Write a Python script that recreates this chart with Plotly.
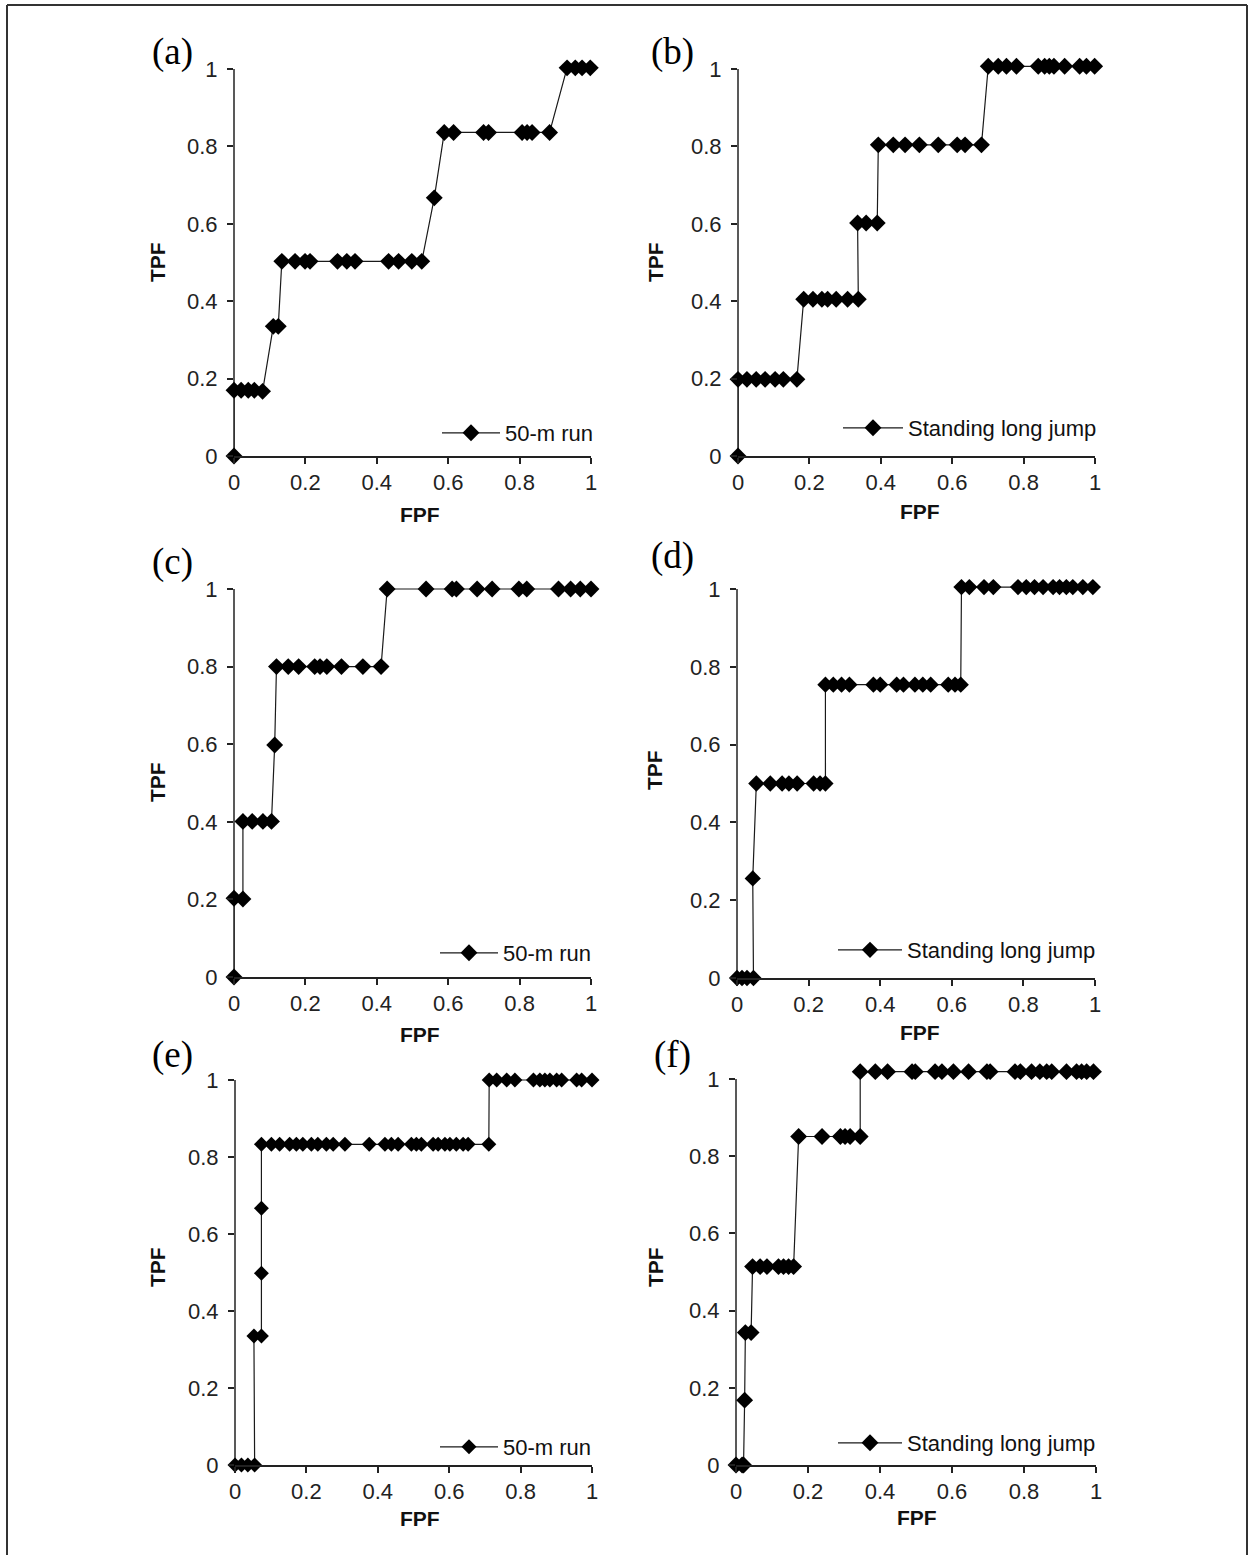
import plotly.graph_objects as go

# ---------------- data ----------------
labels = ["(a)", "(b)", "(c)", "(d)", "(e)", "(f)"]
series_names = ["50-m run", "Standing long jump", "50-m run",
                "Standing long jump", "50-m run", "Standing long jump"]
tick_vals = [0, 0.2, 0.4, 0.6, 0.8, 1]
tick_text = ["0", "0.2", "0.4", "0.6", "0.8", "1"]

fpf_a = [0, 0, 0.02, 0.04, 0.057, 0.08, 0.11, 0.124, 0.134, 0.171, 0.199, 0.213,
         0.29, 0.316, 0.339, 0.433, 0.461, 0.498, 0.526, 0.561, 0.589, 0.615,
         0.699, 0.713, 0.807, 0.821, 0.835, 0.884, 0.933, 0.956, 0.975, 0.998]
tpf_a = [0, 0.17, 0.17, 0.17, 0.17, 0.167, 0.335, 0.335, 0.503, 0.503, 0.503, 0.503,
         0.503, 0.503, 0.503, 0.503, 0.503, 0.503, 0.503, 0.667, 0.836, 0.836,
         0.836, 0.836, 0.836, 0.836, 0.836, 0.836, 1.003, 1.003, 1.003, 1.003]

fpf_b = [0, 0, 0.025, 0.051, 0.076, 0.104, 0.127, 0.165,
         0.184, 0.21, 0.235, 0.251, 0.275, 0.307, 0.337,
         0.335, 0.359, 0.39,
         0.393, 0.435, 0.468, 0.508, 0.561, 0.614, 0.636, 0.682,
         0.701, 0.729, 0.752, 0.78, 0.841, 0.859, 0.872, 0.885, 0.915, 0.957, 0.976, 0.999]
tpf_b = [0, 0.198, 0.198, 0.198, 0.198, 0.198, 0.198, 0.198,
         0.405, 0.405, 0.405, 0.405, 0.405, 0.405, 0.405,
         0.602, 0.602, 0.602,
         0.804, 0.804, 0.804, 0.804, 0.804, 0.804, 0.804, 0.804,
         1.007, 1.007, 1.007, 1.007, 1.007, 1.007, 1.007, 1.007, 1.007, 1.007, 1.007, 1.007]

fpf_c = [0, 0, 0.025, 0.025, 0.051, 0.081, 0.105, 0.114,
         0.119, 0.152, 0.181, 0.226, 0.241, 0.26, 0.301, 0.361, 0.412,
         0.429, 0.538, 0.611, 0.623, 0.681, 0.723, 0.798, 0.82, 0.909, 0.943, 0.97, 1.0]
tpf_c = [0, 0.203, 0.201, 0.401, 0.401, 0.401, 0.401, 0.598,
         0.8, 0.8, 0.8, 0.8, 0.8, 0.8, 0.8, 0.8, 0.8,
         1.0, 1.0, 1.0, 1.0, 1.0, 1.0, 1.0, 1.0, 1.0, 1.0, 1.0, 1.0]

fpf_d = [0, 0.014, 0.028, 0.046, 0.044,
         0.054, 0.093, 0.126, 0.145, 0.168, 0.214, 0.232, 0.247,
         0.247, 0.269, 0.292, 0.314, 0.381, 0.4, 0.446, 0.465, 0.497, 0.519, 0.541, 0.59, 0.609, 0.625,
         0.627, 0.649, 0.69, 0.716, 0.785, 0.808, 0.831, 0.855, 0.883, 0.901, 0.92, 0.938, 0.966, 0.994]
tpf_d = [0, 0, 0, 0, 0.256,
         0.5, 0.5, 0.5, 0.5, 0.5, 0.5, 0.5, 0.5,
         0.754, 0.754, 0.754, 0.754, 0.754, 0.754, 0.754, 0.754, 0.754, 0.754, 0.754, 0.754, 0.754, 0.754,
         1.005, 1.005, 1.005, 1.005, 1.005, 1.005, 1.005, 1.005, 1.005, 1.005, 1.005, 1.005, 1.005, 1.005]

fpf_e = [0, 0.018, 0.036, 0.055, 0.053, 0.074, 0.074, 0.074,
         0.074, 0.102, 0.125, 0.153, 0.172, 0.19, 0.214, 0.232, 0.256, 0.275, 0.308, 0.376, 0.42,
         0.438, 0.457, 0.494, 0.508, 0.522, 0.555, 0.569, 0.588, 0.602, 0.62, 0.639, 0.653, 0.711,
         0.712, 0.733, 0.761, 0.784, 0.836, 0.854, 0.868, 0.882, 0.901, 0.915, 0.957, 0.971, 1.0]
tpf_e = [0, 0, 0, 0, 0.335, 0.335, 0.498, 0.667,
         0.833, 0.833, 0.833, 0.833, 0.833, 0.833, 0.833, 0.833, 0.833, 0.833, 0.833, 0.833, 0.833,
         0.833, 0.833, 0.833, 0.833, 0.833, 0.833, 0.833, 0.833, 0.833, 0.833, 0.833, 0.833, 0.833,
         1.0, 1.0, 1.0, 1.0, 1.0, 1.0, 1.0, 1.0, 1.0, 1.0, 1.0, 1.0, 1.0]

fpf_f = [0, 0.017, 0.021, 0.024, 0.026, 0.042,
         0.046, 0.067, 0.086, 0.118, 0.132, 0.146, 0.16,
         0.174, 0.239, 0.29, 0.303, 0.317, 0.345,
         0.345, 0.387, 0.421, 0.489, 0.498, 0.553, 0.572, 0.604, 0.646, 0.697, 0.706,
         0.775, 0.79, 0.821, 0.844, 0.863, 0.877, 0.918, 0.946, 0.96, 0.974, 0.993]
tpf_f = [0, 0, 0, 0.168, 0.343, 0.343,
         0.514, 0.514, 0.514, 0.514, 0.514, 0.514, 0.514,
         0.851, 0.851, 0.851, 0.851, 0.851, 0.851,
         1.019, 1.019, 1.019, 1.019, 1.019, 1.019, 1.019, 1.019, 1.019, 1.019, 1.019,
         1.019, 1.019, 1.019, 1.019, 1.019, 1.019, 1.019, 1.019, 1.019, 1.019, 1.019]

fpf_all = [fpf_a, fpf_b, fpf_c, fpf_d, fpf_e, fpf_f]
tpf_all = [tpf_a, tpf_b, tpf_c, tpf_d, tpf_e, tpf_f]

# ---------------- layout geometry (pixels) ----------------
W, H = 1250, 1555
YMAX = 1.03  # headroom so markers drawn just above 1 stay visible
# plot areas: (left, right, y=1 pixel, y=0 pixel)
boxes = [(234, 591, 69, 456), (738, 1095, 69, 456),
         (234, 591, 589, 977), (737, 1095, 589, 978),
         (235, 592, 1080, 1465), (736, 1096, 1079, 1465)]
# legend: (x where legend line starts, y centre, symbol width)
legend_pos = [(442, 433, 58), (843, 428, 60), (440, 953, 58),
              (838, 950, 64), (440, 1447, 58), (838, 1443, 64)]
label_pos = [(172, 52), (672, 52), (172, 562), (672, 556), (172, 1055), (672, 1055)]
fpf_title_pos = [(420, 514), (920, 511), (420, 1034), (920, 1032), (420, 1518), (917, 1517)]
tpf_title_pos = [(157, 262), (655, 262), (157, 782), (655, 770), (157, 1267), (655, 1267)]
marker_sizes = [13, 13, 13, 12.5, 11.5, 13]

SANS = "Liberation Sans, Arial, Helvetica, sans-serif"
SERIF = "Liberation Serif, Times New Roman, serif"
INK = "#1a1a1a"


def px(x):
    return x / W


def py(y):
    return 1 - y / H


fig = go.Figure()
annotations = []
shapes = []
layout = dict(width=W, height=H, margin=dict(l=0, r=0, t=0, b=0, autoexpand=False),
              paper_bgcolor="white", plot_bgcolor="white", showlegend=True)

for i in range(6):
    n = "" if i == 0 else str(i + 1)
    l, r, t, b = boxes[i]
    top_px = b - YMAX * (b - t)
    leg = "legend" if i == 0 else "legend" + str(i + 1)
    fig.add_trace(go.Scatter(
        x=fpf_all[i], y=tpf_all[i], mode="lines+markers", name=series_names[i],
        xaxis="x" + n, yaxis="y" + n, legend=leg, cliponaxis=False,
        line=dict(color=INK, width=1.2),
        marker=dict(symbol="diamond", size=marker_sizes[i], color="black",
                    line=dict(width=0)),
        hoverinfo="x+y"))
    axis_common = dict(tickmode="array", tickvals=tick_vals, ticktext=tick_text,
                       showgrid=False, zeroline=False, linecolor="#222",
                       linewidth=1.5, ticks="outside", ticklen=6, tickwidth=1.5,
                       tickcolor="#222", tickfont=dict(family=SANS, size=22, color="#222"),
                       fixedrange=True, automargin=False)
    layout["xaxis" + n] = dict(axis_common, range=[0, 1], showline=True,
                               domain=[px(l), px(r)], anchor="y" + n)
    layout["yaxis" + n] = dict(axis_common, range=[0, YMAX], showline=False,
                               ticklabelstandoff=5,
                               domain=[py(b), py(top_px)], anchor="x" + n)
    # y-axis line from 0 to 1 only
    shapes.append(dict(type="line", xref="x" + n + " domain", yref="y" + n,
                       x0=0, x1=0, y0=0, y1=1, layer="below",
                       line=dict(color="#222", width=1.5)))
    lx, ly, lw = legend_pos[i]
    layout[leg] = dict(x=px(lx - 5), y=py(ly), xanchor="left", yanchor="middle",
                       bgcolor="rgba(0,0,0,0)", borderwidth=0, itemwidth=lw,
                       font=dict(family=SANS, size=22, color="#111"))
    # panel label
    annotations.append(dict(text=labels[i], x=px(label_pos[i][0]), y=py(label_pos[i][1]),
                            xref="paper", yref="paper", showarrow=False,
                            xanchor="center", yanchor="middle",
                            font=dict(family=SERIF, size=37, color="black")))
    # axis titles
    fx, fy = fpf_title_pos[i]
    annotations.append(dict(text="<b>FPF</b>", x=px(fx), y=py(fy),
                            xref="paper", yref="paper", showarrow=False,
                            xanchor="center", yanchor="middle",
                            font=dict(family=SANS, size=21, color="#111")))
    tx, ty = tpf_title_pos[i]
    annotations.append(dict(text="<b>TPF</b>", x=px(tx), y=py(ty),
                            xref="paper", yref="paper", showarrow=False, textangle=-90,
                            xanchor="center", yanchor="middle",
                            font=dict(family=SANS, size=21, color="#111")))

# outer frame (top, left, right edges)
frame = dict(color="#333", width=2)
shapes += [
    dict(type="line", xref="paper", yref="paper", x0=px(7), x1=px(1247), y0=py(5), y1=py(5), line=frame),
    dict(type="line", xref="paper", yref="paper", x0=px(7), x1=px(7), y0=py(5), y1=0, line=frame),
    dict(type="line", xref="paper", yref="paper", x0=px(1247), x1=px(1247), y0=py(5), y1=0, line=frame),
]
layout["annotations"] = annotations
layout["shapes"] = shapes
fig.update_layout(**layout)
fig.write_html("out.html", config={"displayModeBar": False},
               post_script="document.body.style.margin='0';document.body.style.overflow='hidden';")
